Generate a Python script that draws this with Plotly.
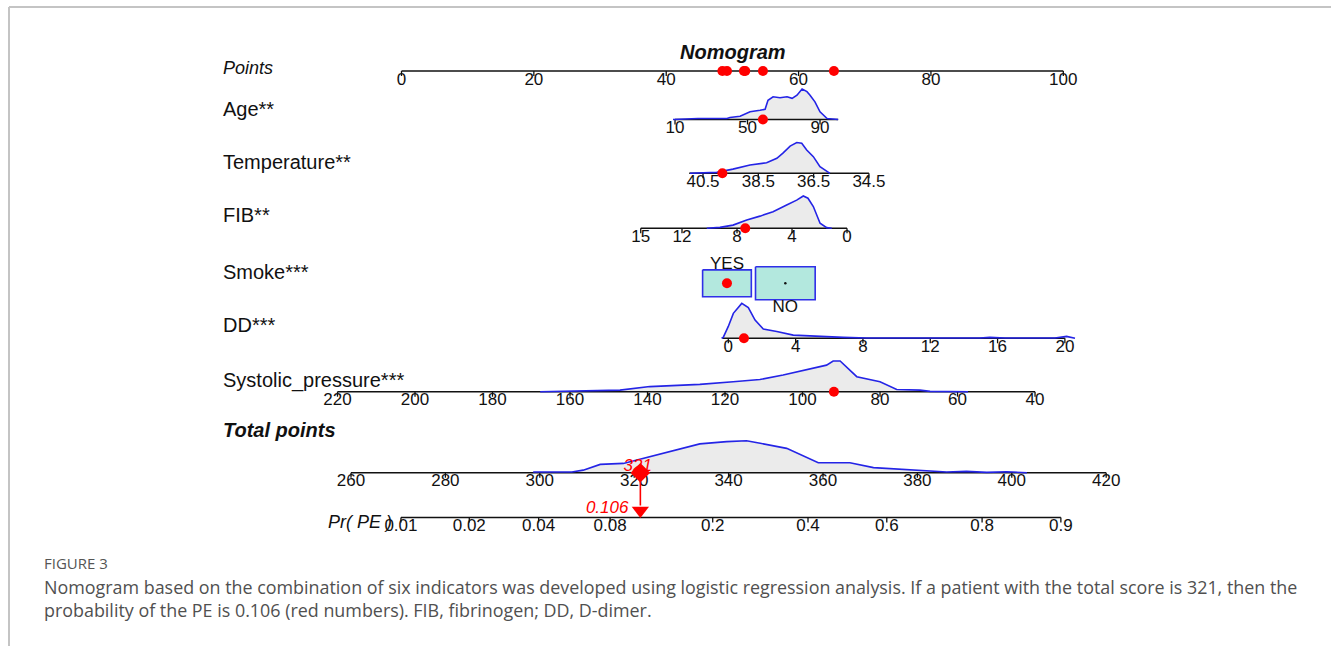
import numpy as np
import plotly.graph_objects as go

# ---------------- model: each predictor maps linearly onto the 0-100 points scale
# (value, points) anchor pairs
age_scale = [(10, 41.33), (90, 63.24)]
temp_scale = [(40.5, 45.56), (34.5, 70.63)]
fib_scale = [(15, 36.15), (0, 67.32)]
dd_scale = [(0, 49.38), (20, 100.24)]
sbp_scale = [(220, -9.67), (40, 95.73)]
total_scale = [(260, -7.63), (420, 106.48)]

smoke_levels = ["YES", "NO"]
smoke_points = [49.18, 58.0]
smoke_freq = [0.4, 0.6]

# logistic link: logit(Pr(PE)) = b0 + b1 * total points
logit_b0 = -17.74
logit_b1 = 0.04858

# ---------------- axis ticks and ranges
point_ticks = [0, 20, 40, 60, 80, 100]
age_ticks = [10, 50, 90]
age_range = [10, 100]
temp_ticks = [40.5, 38.5, 36.5, 34.5]
temp_range = [41.0, 34.5]
fib_ticks = [15, 12, 8, 4, 0]
fib_range = [15, 0]
dd_ticks = [0, 4, 8, 12, 16, 20]
dd_range = [-0.35, 20]
sbp_ticks = [220, 200, 180, 160, 140, 120, 100, 80, 60, 40]
sbp_range = [220, 40]
total_ticks = [260, 280, 300, 320, 340, 360, 380, 400, 420]
prob_ticks = [0.01, 0.02, 0.04, 0.08, 0.2, 0.4, 0.6, 0.8, 0.9]
prob_labels = ["0.01", "0.02", "0.04", "0.08", "0.2", "0.4", "0.6", "0.8", "0.9"]

# ---------------- sample densities (value, relative density)
age_grid = [8.9, 14.4, 22.7, 38.7, 40.3, 45.9, 51.4, 56.9, 59.7, 61.3, 64.1, 67.9,
            71.8, 74.6, 77.3, 80.1, 82.8, 84.5, 87.2, 90.0, 93.9, 100.0]
age_dens = [0.0, 0.01, 0.03, 0.03, 0.06, 0.10, 0.24, 0.29, 0.32, 0.60, 0.71, 0.68,
            0.71, 0.66, 0.76, 0.95, 0.87, 0.76, 0.55, 0.24, 0.03, 0.0]
temp_grid = [40.97, 40.0, 39.42, 38.8, 38.2, 37.83, 37.61, 37.35, 37.11, 36.93,
             36.75, 36.51, 36.27, 35.91]
temp_dens = [0.0, 0.03, 0.13, 0.26, 0.33, 0.47, 0.63, 0.85, 0.96, 0.94,
             0.73, 0.52, 0.21, 0.0]
fib_grid = [10.2, 9.24, 8.29, 7.29, 6.33, 5.38, 4.39, 3.66, 3.18, 2.84, 2.45, 1.96, 1.48, 1.11]
fib_dens = [0.0, 0.03, 0.10, 0.26, 0.38, 0.52, 0.73, 0.88, 1.01, 0.94, 0.68, 0.16, 0.02, 0.0]
dd_grid = [-0.40, -0.30, 0.0, 0.30, 0.80, 1.19, 1.59, 2.08, 2.88, 3.86, 6.83, 8.22,
           14.95, 15.54, 16.44, 19.41, 20.1, 20.6]
dd_dens = [0.0, 0.03, 0.37, 0.78, 1.09, 0.96, 0.57, 0.29, 0.21, 0.10, 0.03, 0.01,
           0.01, 0.03, 0.01, 0.01, 0.06, 0.0]
sbp_grid = [167.7, 152.3, 147.1, 139.4, 126.5, 117.9, 111.0, 105.0, 98.9, 93.8,
            92.1, 90.3, 86.0, 80.0, 75.7, 69.7, 67.1, 57.6, 57.3]
sbp_dens = [0.0, 0.02, 0.05, 0.16, 0.23, 0.31, 0.38, 0.52, 0.68, 0.83,
            0.96, 0.96, 0.47, 0.31, 0.07, 0.05, 0.01, 0.02, 0.0]
total_grid = [298.6, 306.8, 309.2, 312.8, 317.7, 321.2, 325.5, 330.4, 333.9, 339.6,
              343.8, 346.7, 352.3, 359.0, 365.7, 370.7, 379.1, 386.2, 390.4, 394.7,
              398.9, 403.2]
total_dens = [0.02, 0.02, 0.08, 0.26, 0.29, 0.42, 0.60, 0.76, 0.90, 0.97,
              1.0, 0.92, 0.76, 0.31, 0.31, 0.16, 0.08, 0.02, 0.04, 0.01,
              0.03, 0.0]

# ---------------- the patient being scored
patient_age = 58.5
patient_temp = 39.8
patient_fib = 7.4
patient_smoke = "YES"
patient_dd = 0.93
patient_sbp = 91.9


def lin(v, scale):
    (v0, p0), (v1, p1) = scale
    return p0 + (p1 - p0) * (np.asarray(v, dtype=float) - v0) / (v1 - v0)


def logit(p):
    p = np.asarray(p, dtype=float)
    return np.log(p / (1 - p))


# ---------------- page geometry
W, H = 1331, 646
PX0, PX_PER_PT = 401.5, 6.618          # pixel of 0 points, pixels per point
X_RANGE = [-PX0 / PX_PER_PT, (W - PX0) / PX_PER_PT]
DENS_H = 32                             # pixel height of a unit density
FONT = "Liberation Sans, Arial, sans-serif"
TICK_SIZE = 17
BLUE = "#2424e6"
RED = "#ff0000"

ROW = dict(points=71, age=119.5, temp=173.3, fib=228.3, smoke=283.3,
           dd=338.3, sbp=391.7, total=472.7, prob=517.5)

fig = go.Figure()


def add_density(grid, dens, scale, base):
    xs = lin(grid, scale)
    ys = base - np.asarray(dens) * DENS_H
    fig.add_trace(go.Scatter(
        x=np.concatenate([xs, xs[::-1]]),
        y=np.concatenate([ys, np.full(len(xs), base)]),
        fill="toself", fillcolor="#ebebeb", mode="lines",
        line=dict(width=0), hoverinfo="skip", showlegend=False))
    return xs, ys


def add_axis(base, tick_pts, labels, line_pts):
    fig.add_trace(go.Scatter(
        x=list(line_pts), y=[base, base], mode="lines",
        line=dict(color="#111111", width=1.6), hoverinfo="skip", showlegend=False))
    tx, ty = [], []
    for p in tick_pts:
        tx += [p, p, None]
        ty += [base, base + 5, None]
    fig.add_trace(go.Scatter(
        x=tx, y=ty, mode="lines", line=dict(color="#111111", width=1.3),
        hoverinfo="skip", showlegend=False))
    fig.add_trace(go.Scatter(
        x=list(tick_pts), y=[base + 9.5] * len(tick_pts), mode="text",
        text=labels, textposition="middle center",
        textfont=dict(family=FONT, size=TICK_SIZE, color="#111111"),
        hoverinfo="skip", showlegend=False, cliponaxis=False))


def add_curve(xs, ys):
    fig.add_trace(go.Scatter(
        x=xs, y=ys, mode="lines", line=dict(color=BLUE, width=1.6),
        hoverinfo="skip", showlegend=False))


def fmt(v):
    return ("%g" % v)


# ---- continuous predictors
rows = [
    ("age", age_grid, age_dens, age_scale, age_ticks, age_range),
    ("temp", temp_grid, temp_dens, temp_scale, temp_ticks, temp_range),
    ("fib", fib_grid, fib_dens, fib_scale, fib_ticks, fib_range),
    ("dd", dd_grid, dd_dens, dd_scale, dd_ticks, dd_range),
    ("sbp", sbp_grid, sbp_dens, sbp_scale, sbp_ticks, sbp_range),
]
for key, grid, dens, scale, ticks, rng in rows:
    base = ROW[key]
    xs, ys = add_density(grid, dens, scale, base)
    labels = ["%.1f" % t for t in ticks] if key == "temp" else [fmt(t) for t in ticks]
    add_axis(base, lin(ticks, scale), labels, lin(rng, scale))
    add_curve(xs, ys)

# ---- total points row
t_xs, t_ys = add_density(total_grid, total_dens, total_scale, ROW["total"])
add_axis(ROW["total"], lin(total_ticks, total_scale), [fmt(t) for t in total_ticks],
         lin([total_ticks[0], total_ticks[-1]], total_scale))
add_curve(t_xs, t_ys)

# ---- probability row
prob_T = (logit(prob_ticks) - logit_b0) / logit_b1
add_axis(ROW["prob"], lin(prob_T, total_scale), prob_labels,
         lin([prob_T[0], prob_T[-1]], total_scale))

# ---- points row
add_axis(ROW["points"], point_ticks, [fmt(t) for t in point_ticks],
         [point_ticks[0], point_ticks[-1]])

# ---- smoke boxes (area proportional to frequency)
BOX_HW, BOX_HH = 5.82, 21.3
for lvl, pts, f in zip(smoke_levels, smoke_points, smoke_freq):
    hw = BOX_HW * np.sqrt(f)
    hh = BOX_HH * np.sqrt(f)
    yc = ROW["smoke"]
    fig.add_trace(go.Scatter(
        x=[pts - hw, pts + hw, pts + hw, pts - hw, pts - hw],
        y=[yc - hh, yc - hh, yc + hh, yc + hh, yc - hh],
        mode="lines", fill="toself", fillcolor="#b3e8de",
        line=dict(color="#2f2fe8", width=1.6), hoverinfo="skip", showlegend=False))
    fig.add_trace(go.Scatter(
        x=[pts], y=[yc], mode="markers", marker=dict(color="#111111", size=2.5),
        hoverinfo="skip", showlegend=False))
    ly = yc - hh - 5 if lvl == "YES" else yc + hh + 7.5
    fig.add_trace(go.Scatter(
        x=[pts], y=[ly], mode="text", text=[lvl],
        textfont=dict(family=FONT, size=TICK_SIZE, color="#111111"),
        hoverinfo="skip", showlegend=False, cliponaxis=False))

# ---- score the patient
p_age = float(lin(patient_age, age_scale))
p_temp = float(lin(patient_temp, temp_scale))
p_fib = float(lin(patient_fib, fib_scale))
p_smoke = smoke_points[smoke_levels.index(patient_smoke)]
p_dd = float(lin(patient_dd, dd_scale))
p_sbp = float(lin(patient_sbp, sbp_scale))
total = p_age + p_temp + p_fib + p_smoke + p_dd + p_sbp
prob = 1.0 / (1.0 + np.exp(-(logit_b0 + logit_b1 * total)))

# red dots on each predictor row and on the points scale
fig.add_trace(go.Scatter(
    x=[p_age, p_temp, p_fib, p_smoke, p_dd, p_sbp],
    y=[ROW["age"], ROW["temp"], ROW["fib"], ROW["smoke"], ROW["dd"], ROW["sbp"]],
    mode="markers", marker=dict(color=RED, size=10),
    hoverinfo="skip", showlegend=False))
fig.add_trace(go.Scatter(
    x=[p_age, p_temp, p_fib, p_smoke, p_dd, p_sbp], y=[ROW["points"]] * 6,
    mode="markers", marker=dict(color=RED, size=10),
    hoverinfo="skip", showlegend=False))

tx = float(lin(total, total_scale))
fig.add_trace(go.Scatter(
    x=[tx, tx], y=[ROW["total"], ROW["prob"] - 12], mode="lines",
    line=dict(color=RED, width=1.6), hoverinfo="skip", showlegend=False))
fig.add_trace(go.Scatter(
    x=[tx], y=[ROW["total"]], mode="markers",
    marker=dict(color=RED, size=15, symbol="diamond"),
    hoverinfo="skip", showlegend=False))
fig.add_trace(go.Scatter(
    x=[tx], y=[ROW["prob"] - 7], mode="markers",
    marker=dict(color=RED, size=15, symbol="triangle-down"),
    hoverinfo="skip", showlegend=False))
fig.add_trace(go.Scatter(
    x=[tx - 0.4], y=[ROW["total"] - 6], mode="text", text=["<i>%d</i>" % round(total)],
    textfont=dict(family=FONT, size=TICK_SIZE, color=RED),
    hoverinfo="skip", showlegend=False, cliponaxis=False))
fig.add_trace(go.Scatter(
    x=[tx - 1.8], y=[ROW["prob"] - 8.5], mode="text", text=["<i>%.3f</i>" % prob],
    textposition="middle left",
    textfont=dict(family=FONT, size=TICK_SIZE, color=RED),
    hoverinfo="skip", showlegend=False, cliponaxis=False))

# ---------------- text labels
def label(x, y, text, size=20, anchor="left", color="#111111", family=FONT):
    fig.add_annotation(x=x / W, xref="paper", y=y, yref="y", text=text,
                       showarrow=False, xanchor=anchor, yanchor="middle",
                       font=dict(family=family, size=size, color=color))


label(733, 52, "<b><i>Nomogram</i></b>", size=20, anchor="center")
label(221, 68, "<i>Points</i>", size=18)
label(221, 109, "Age**")
label(221, 162, "Temperature**")
label(221, 215, "FIB**")
label(221, 272, "Smoke***")
label(221, 325, "DD***")
label(221, 380, "Systolic_pressure***")
label(221, 430, "<b><i>Total points</i></b>")
label(394, 522, "<i>Pr( PE )</i>", size=18, anchor="right")

CAP_FONT = "Open Sans, Noto Sans, sans-serif"
label(42, 563, "FIGURE 3", size=15, color="#555555", family=CAP_FONT)
label(42, 587, "Nomogram based on the combination of six indicators was developed using "
      "logistic regression analysis. If a patient with the total score is 321, then the",
      size=17.9, color="#505050", family=CAP_FONT)
label(42, 610, "probability of the PE is 0.106 (red numbers). FIB, fibrinogen; DD, D-dimer.",
      size=17.9, color="#505050", family=CAP_FONT)

# ---------------- page frame
fig.add_shape(type="line", xref="paper", yref="y", x0=9 / W, x1=1.0, y0=7, y1=7,
              line=dict(color="#c4c4c4", width=2))
fig.add_shape(type="line", xref="paper", yref="y", x0=9 / W, x1=9 / W, y0=7, y1=H,
              line=dict(color="#c4c4c4", width=2))

fig.update_layout(
    width=W, height=H, autosize=False,
    margin=dict(l=0, r=0, t=0, b=0, pad=0),
    paper_bgcolor="white", plot_bgcolor="white",
    showlegend=False,
    xaxis=dict(range=X_RANGE, visible=False, domain=[0, 1], fixedrange=True),
    yaxis=dict(range=[H, 0], visible=False, domain=[0, 1], fixedrange=True),
)

fig.write_html("out.html")
